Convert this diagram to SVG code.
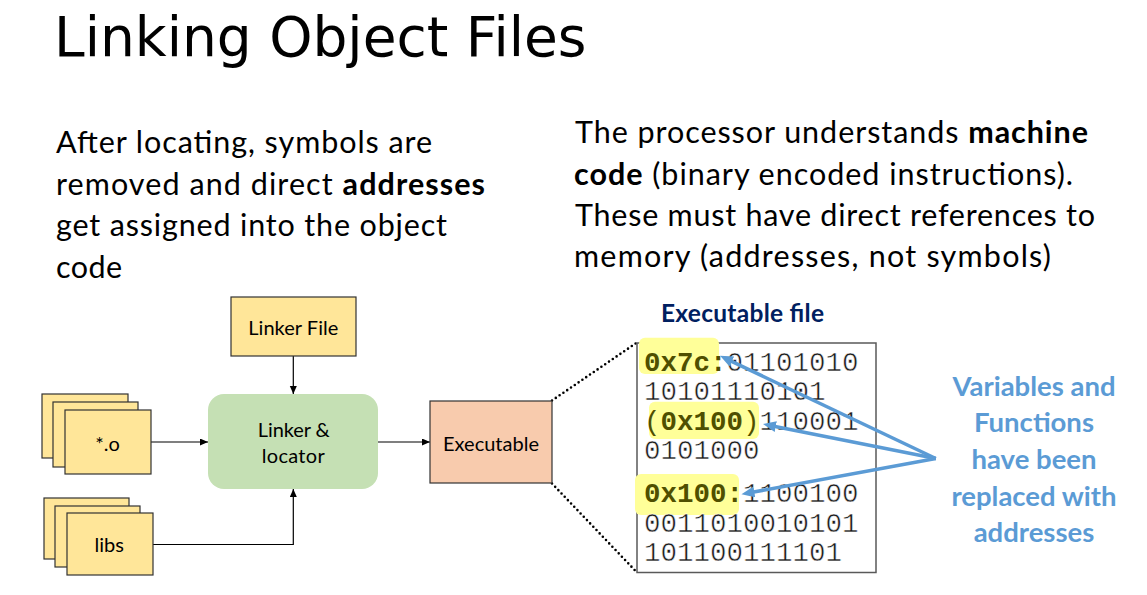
<svg xmlns="http://www.w3.org/2000/svg" width="1147" height="595" viewBox="0 0 1147 595">
  <defs>
    <marker id="arrow-black" markerUnits="userSpaceOnUse" markerWidth="9" markerHeight="8" refX="8" refY="3.5" orient="auto">
      <path d="M0,0 L8,3.5 L0,7 z" fill="#000"/>
    </marker>
    <marker id="arrow-blue" markerUnits="userSpaceOnUse" markerWidth="14" markerHeight="12" refX="2" refY="5.5" orient="auto">
      <path d="M0,0 L13,5.5 L0,11 z" fill="#5B9BD5"/>
    </marker>
  </defs>
  <style>
    .title { font-family: "DejaVu Sans", sans-serif; font-size: 55px; fill: #000; }
    .para { font-family: Lato, "Open Sans", sans-serif; font-size: 30.5px; fill: #000; }
    .b { font-weight: bold; }
    .file { fill: #FFE699; stroke: #333; stroke-width: 1.2; }
    .lbl { font-family: Lato, "Open Sans", sans-serif; font-size: 20px; fill: #000; text-anchor: middle; }
    .conn { stroke: #000; stroke-width: 1.2; fill: none; marker-end: url(#arrow-black); }
    .dots { stroke: #000; stroke-width: 2.6; stroke-linecap: round; stroke-dasharray: 0 4.6; fill: none; }
    .mono { font-family: "Liberation Mono", "Courier New", monospace; font-size: 27.5px; fill: #1a1a1a; }
    .thin { stroke: #fff; stroke-width: 0.5; }
    .sym { fill: #4F4F00; stroke: none; }
    .hl { fill: #FFFF99; }
    .blue { stroke: #5B9BD5; stroke-width: 3.5; fill: none; marker-end: url(#arrow-blue); }
    .note { font-family: Lato, "Open Sans", sans-serif; font-size: 27.5px; font-weight: bold; fill: #5B9BD5; text-anchor: middle; }
  </style>

  <rect width="1147" height="595" fill="#fff"/>

  <text class="title" x="54" y="56">Linking Object Files</text>

  <text class="para" x="56" y="153" textLength="376">After locating, symbols are</text>
  <text class="para" x="56" y="194.5" textLength="429">removed and direct <tspan class="b">addresses</tspan></text>
  <text class="para" x="56" y="236" textLength="391">get assigned into the object</text>
  <text class="para" x="56" y="277.5" textLength="66">code</text>

  <text class="para" x="575" y="143" textLength="513">The processor understands <tspan class="b">machine</tspan></text>
  <text class="para" x="574" y="184.5" textLength="499"><tspan class="b">code</tspan> (binary encoded instructions).</text>
  <text class="para" x="575" y="226" textLength="520">These must have direct references to</text>
  <text class="para" x="574" y="267" textLength="477">memory (addresses, not symbols)</text>

  <!-- connectors -->
  <g id="connectors">
    <line class="conn" x1="293.3" y1="356" x2="293.3" y2="394"/>
    <line class="conn" x1="151" y1="442" x2="208" y2="442"/>
    <path class="conn" d="M153,544.5 H293.3 V489"/>
    <line class="conn" x1="378" y1="442" x2="430" y2="442"/>
    <line class="dots" x1="552" y1="400.5" x2="637" y2="342.5"/>
    <line class="dots" x1="552" y1="483.5" x2="637" y2="572.5"/>
  </g>

  <g id="linker-file">
    <rect class="file" x="231" y="297" width="125" height="59"/>
    <text class="lbl" x="293.3" y="335" textLength="90" font-size="21">Linker File</text>
  </g>

  <g id="objects">
    <rect class="file" x="42" y="394" width="86" height="64"/>
    <rect class="file" x="53" y="402" width="85" height="65"/>
    <rect class="file" x="65" y="410" width="86" height="64"/>
    <text class="lbl" x="107.5" y="450.7" font-size="21">*.o</text>
  </g>

  <g id="libs">
    <rect class="file" x="44" y="498" width="85" height="61"/>
    <rect class="file" x="55" y="506" width="85" height="61"/>
    <rect class="file" x="67" y="513" width="86" height="62"/>
    <text class="lbl" x="109.3" y="552.3" font-size="21">libs</text>
  </g>

  <g id="linker-locator">
    <rect x="208" y="394" width="170" height="95" rx="16" fill="#C5E0B4"/>
    <text class="lbl" x="293.8" y="436.7" textLength="72" font-size="21">Linker &amp;</text>
    <text class="lbl" x="293.2" y="463.3" textLength="63" font-size="21">locator</text>
  </g>

  <g id="executable">
    <rect x="430" y="401" width="122" height="82" fill="#F8CBAD" stroke="#333" stroke-width="1.2"/>
    <text class="lbl" x="491" y="450.7" textLength="96" font-size="21">Executable</text>
  </g>

  <g id="executable-file">
    <text x="742.5" y="321.7" text-anchor="middle" textLength="163" font-family="Lato, 'Open Sans', sans-serif" font-size="24.5" font-weight="bold" fill="#002060">Executable file</text>
    <rect x="637" y="343" width="239" height="229.5" fill="#fff" stroke="#595959" stroke-width="1.5"/>
    <rect class="hl" x="639" y="337.7" width="80" height="36.3" rx="6"/>
    <rect class="hl" x="649" y="401.7" width="110" height="37.3" rx="6"/>
    <rect class="hl" x="635" y="474" width="104" height="41" rx="6"/>
    <text class="mono" x="644" y="370.5"><tspan class="sym b">0x7c:</tspan><tspan class="thin">01101010</tspan></text>
    <text class="mono thin" x="644" y="400">10101110101</text>
    <text class="mono" x="644" y="429.5"><tspan class="sym">(</tspan><tspan class="sym b">0x100</tspan><tspan class="sym">)</tspan><tspan class="thin">110001</tspan></text>
    <text class="mono thin" x="644" y="459">0101000</text>
    <text class="mono" x="644" y="502"><tspan class="sym b">0x100:</tspan><tspan class="thin">1100100</tspan></text>
    <text class="mono thin" x="644" y="531.5">0011010010101</text>
    <text class="mono thin" x="644" y="561">101100111101</text>
  </g>

  <g id="note">
    <line class="blue" x1="935.8" y1="458.5" x2="730" y2="360.6"/>
    <line class="blue" x1="935.8" y1="458.5" x2="773.8" y2="426.2"/>
    <line class="blue" x1="935.8" y1="458.5" x2="752.3" y2="492.3"/>
    <text class="note" x="1034" y="395.5">Variables and</text>
    <text class="note" x="1034" y="432">Functions</text>
    <text class="note" x="1034" y="469">have been</text>
    <text class="note" x="1034" y="505.5">replaced with</text>
    <text class="note" x="1034" y="542">addresses</text>
  </g>
</svg>
